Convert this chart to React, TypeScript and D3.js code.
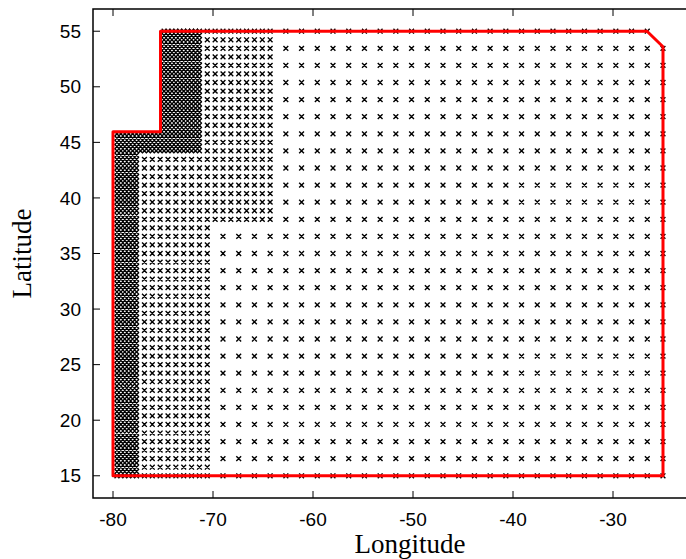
import React from "react";
import * as d3 from "d3";

// Axis ticks
const xTicks = [-80, -70, -60, -50, -40, -30];
const yTicks = [15, 20, 25, 30, 35, 40, 45, 50, 55];

// Grid definitions: origin [lon, lat] and step [dlon, dlat]
const coarseOrigin = [-69.0, 15.0];
const coarseStep = [1.5714, 1.5385];
const mediumOrigin = [-76.857, 15.0];
const mediumStep = [0.7857, 0.76925];
const fineOrigin = [-80.0, 15.0];
const fineStep = [0.39285, 0.384625];

// Blocks of grid points: [rowFrom, rowTo, colFrom, colTo]
const coarseBlocks = [
  [0, 14, 0, 28],
  [15, 25, 4, 28],
  [26, 26, 4, 27],
];
const mediumBlocks = [
  [0, 29, 0, 8],
  [30, 37, 0, 16],
  [38, 52, 8, 16],
];
const fineBlocks = [
  [0, 80, 1, 6],
  [76, 80, 7, 22],
  [81, 104, 13, 22],
];

// Domain boundary (red line)
const boundaryLon = [-80, -80, -75.25, -75.25, -26.6, -25, -25];
const boundaryLat = [15, 45.95, 45.95, 55, 55, 53.6, 15];

const W = 686;
const H = 559;
const left = 93;
const right = 693;
const top = 9;
const bottom = 498;

export default function App() {
  const x = d3.scaleLinear().domain([-82, -22]).range([left, right]);
  const y = d3.scaleLinear().domain([13, 57]).range([bottom, top]);

  const h = 2.4;
  const buildPath = (origin: number[], step: number[], blocks: number[][]) => {
    const parts: string[] = [];
    blocks.forEach(([r0, r1, c0, c1]) => {
      for (let r = r0; r <= r1; r++) {
        for (let c = c0; c <= c1; c++) {
          const px = x(origin[0] + c * step[0]);
          const py = y(origin[1] + r * step[1]);
          parts.push(
            `M${(px - h).toFixed(2)},${(py - h).toFixed(2)}L${(px + h).toFixed(2)},${(py + h).toFixed(2)}M${(px - h).toFixed(2)},${(py + h).toFixed(2)}L${(px + h).toFixed(2)},${(py - h).toFixed(2)}`
          );
        }
      }
    });
    return parts.join("");
  };

  const marks =
    buildPath(coarseOrigin, coarseStep, coarseBlocks) +
    buildPath(mediumOrigin, mediumStep, mediumBlocks) +
    buildPath(fineOrigin, fineStep, fineBlocks);

  const line = d3
    .line<number>()
    .x((i) => x(boundaryLon[i]))
    .y((i) => y(boundaryLat[i]));
  const boundary = line(boundaryLon.map((_, i) => i)) + "Z";

  const tickLen = 7;
  const sans = "'Liberation Sans', Arial, Helvetica, sans-serif";
  const serif = "'Liberation Serif', 'Times New Roman', serif";

  return (
    <svg
      width={W}
      height={H}
      style={{ position: "absolute", left: 0, top: 0, background: "#fff" }}
    >
      <rect x={0} y={0} width={W} height={H} fill="#fff" />
      <path d={marks} stroke="#000" strokeWidth={1.4} fill="none" />
      <path
        d={boundary}
        stroke="#ff0000"
        strokeWidth={3}
        fill="none"
        strokeLinejoin="round"
      />
      {/* frame */}
      <rect
        x={left}
        y={top}
        width={right - left}
        height={bottom - top}
        fill="none"
        stroke="#000"
        strokeWidth={1.5}
      />
      {xTicks.map((t) => (
        <g key={"x" + t}>
          <line x1={x(t)} x2={x(t)} y1={bottom} y2={bottom - tickLen} stroke="#000" strokeWidth={1} />
          <line x1={x(t)} x2={x(t)} y1={top} y2={top + tickLen} stroke="#000" strokeWidth={1} />
          <text x={x(t)} y={526} textAnchor="middle" fontFamily={sans} fontSize={19} fill="#000">
            {t}
          </text>
        </g>
      ))}
      {yTicks.map((t) => (
        <g key={"y" + t}>
          <line x1={left} x2={left + tickLen} y1={y(t)} y2={y(t)} stroke="#000" strokeWidth={1} />
          <line x1={right} x2={right - tickLen} y1={y(t)} y2={y(t)} stroke="#000" strokeWidth={1} />
          <text
            x={81}
            y={y(t)}
            dy="0.35em"
            textAnchor="end"
            fontFamily={sans}
            fontSize={19}
            fill="#000"
          >
            {t}
          </text>
        </g>
      ))}
      <text x={410} y={553} textAnchor="middle" fontFamily={serif} fontSize={27} fill="#000">
        Longitude
      </text>
      <text
        transform={`translate(31, ${(top + bottom) / 2}) rotate(-90)`}
        textAnchor="middle"
        fontFamily={serif}
        fontSize={27}
        fill="#000"
      >
        Latitude
      </text>
    </svg>
  );
}
